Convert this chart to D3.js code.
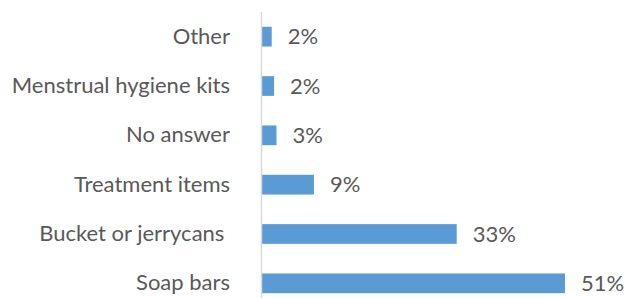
<!DOCTYPE html>
<html>
<head>
<meta charset="utf-8">
<script src="https://cdn.jsdelivr.net/npm/d3@7"></script>
<style>
  body { margin: 0; background: #fff; }
  text { font-family: Lato, "Open Sans", sans-serif; fill: #595959; white-space: pre; }
</style>
</head>
<body>
<div id="chart"></div>
<script>
// categories top to bottom, values in percent
var categories = ["Other", "Menstrual hygiene kits", "No answer", "Treatment items", "Bucket or jerrycans ", "Soap bars"];
var values = [1.8, 2.2, 2.6, 8.9, 32.9, 51.1];

var width = 635,
    height = 298,
    axisX = 261;

var svg = d3.select("#chart").append("svg")
    .attr("width", width)
    .attr("height", height);

//x scale: percent to pixels
var xScale = d3.scaleLinear()
    .domain([0, 51.1])
    .range([axisX, 565]);

//y scale for bars
var yScale = d3.scaleBand()
    .domain(categories)
    .range([12, 308])
    .paddingInner(0.6)
    .paddingOuter(0.3);

//bars
svg.selectAll(".bar")
    .data(values)
    .enter().append("rect")
    .attr("class", "bar")
    .attr("x", xScale(0))
    .attr("y", function (d, i) { return yScale(categories[i]); })
    .attr("width", function (d) { return xScale(d) - xScale(0); })
    .attr("height", yScale.bandwidth())
    .style("fill", "#5b9bd5");

//category axis
var yAxis = d3.axisLeft(yScale)
    .tickSize(0)
    .tickPadding(31);

var gy = svg.append("g")
    .attr("transform", "translate(" + axisX + ",0)")
    .call(yAxis);

gy.select(".domain").remove();
gy.append("line")
    .attr("x1", 0.5).attr("x2", 0.5)
    .attr("y1", 12).attr("y2", height)
    .style("stroke", "#d9d9d9")
    .style("stroke-width", 1.5);

gy.selectAll("text")
    .style("font-size", "22px")
    .attr("fill", "#595959");

//value labels
svg.selectAll(".val")
    .data(values)
    .enter().append("text")
    .attr("class", "val")
    .attr("x", function (d) { return xScale(d) + 16; })
    .attr("y", function (d, i) { return yScale(categories[i]) + yScale.bandwidth() / 2; })
    .attr("dy", "0.35em")
    .style("font-size", "22px")
    .text(function (d) { return Math.round(d) + "%"; });
</script>
</body>
</html>
